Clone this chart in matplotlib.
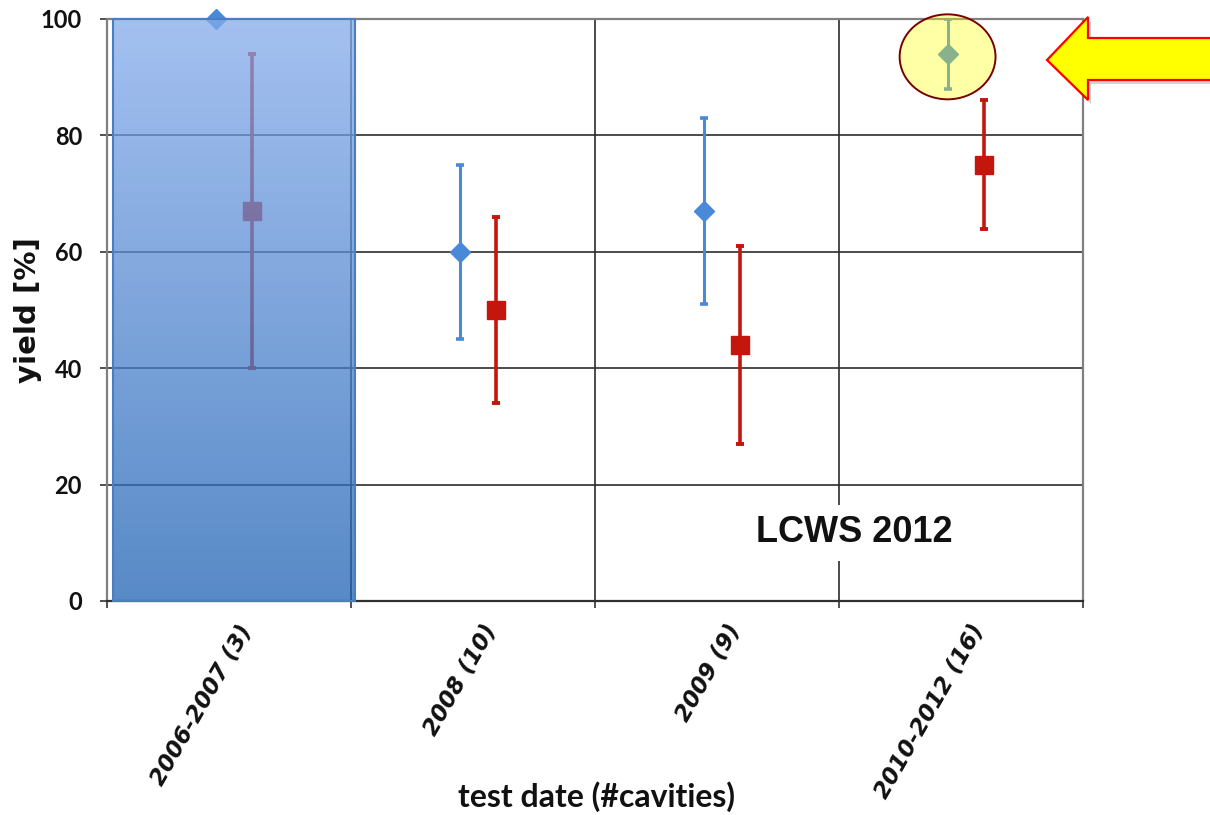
import numpy as np
import matplotlib
matplotlib.use('Agg')
import matplotlib.pyplot as plt
from matplotlib import font_manager
from matplotlib.patches import Rectangle, Ellipse, Polygon
from matplotlib.transforms import ScaledTranslation

# ---------------- data ----------------
categories = ['2006-2007 (3)', '2008 (10)', '2009 (9)', '2010-2012 (16)']
blue_vals = [100, 60, 67, 94]
blue_lo = [np.nan, 45, 51, 88]
blue_hi = [np.nan, 75, 83, 100]
red_vals = [67, 50, 44, 75]
red_lo = [40, 34, 27, 64]
red_hi = [94, 66, 61, 86]
yticks = [0, 20, 40, 60, 80, 100]
ylabel = 'yield [%]'
xlabel = 'test date (#cavities)'
note = 'LCWS 2012'

# ---------------- fonts ----------------
names = {f.name for f in font_manager.fontManager.ttflist}
narrow = 'Liberation Sans Narrow' if 'Liberation Sans Narrow' in names else 'Liberation Sans'
note_size = 30 if narrow == 'Liberation Sans Narrow' else 26

W, H = 1210, 815
fig = plt.figure(figsize=(W / 100, H / 100), dpi=100)
fig.patch.set_facecolor('white')
ax = fig.add_axes([107 / W, 1 - 601 / H, (1083 - 107) / W, (601 - 19) / H])

BLUE = '#4a88d8'
RED = '#c4160c'
GRID = '#2c2c2c'

x = np.arange(len(categories))
bv, blo, bhi = map(np.asarray, (blue_vals, blue_lo, blue_hi))
rv, rlo, rhi = map(np.asarray, (red_vals, red_lo, red_hi))
bx = x - 0.055
rx = x + 0.095

# grid
for v in yticks[1:-1]:
    ax.axhline(v, color=GRID, lw=1.2, zorder=1)
for b in x[:-1] + 0.5:
    ax.axvline(b, color=GRID, lw=1.2, zorder=1)

# error bars + markers
m = np.isfinite(blo)
ax.errorbar(bx[m], bv[m], yerr=[bv[m] - blo[m], bhi[m] - bv[m]], fmt='none',
            ecolor=BLUE, elinewidth=2.2, capsize=3, capthick=2.6, zorder=3)
ax.plot(bx, bv, 'D', ms=10, color=BLUE, zorder=4, clip_on=False)
ax.errorbar(rx, rv, yerr=[rv - rlo, rhi - rv], fmt='none',
            ecolor=RED, elinewidth=2.6, capsize=3, capthick=2.8, zorder=3)
ax.plot(rx, rv, 's', ms=13.5, color=RED, zorder=4, clip_on=False)

# blue gradient overlay over first category
x0, x1 = -0.475, 0.516
n = 256
t = np.linspace(0, 1, n)[:, None]
top = np.array([133, 171, 235]) / 255
bot = np.array([32, 99, 181]) / 255
img = np.ones((n, 1, 4))
img[:, 0, :3] = top * (1 - t) + bot * t
img[:, 0, 3] = 0.75
ax.imshow(img, extent=[x0, x1, 0, 100], origin='upper', aspect='auto',
          zorder=5, interpolation='bilinear')
ax.add_patch(Rectangle((x0, 0), x1 - x0, 100, fill=False, ec='#4a7ec0',
                       lw=1.5, zorder=5.5, clip_on=False))

# highlight ellipse
ax.add_patch(Ellipse((bx[3], 93.5), width=0.393, height=14.6,
                     fc=(1, 1, 0, 0.35), ec='#7a0000', lw=1.4, zorder=6, clip_on=False))

# note
ax.text(2.561, 11.7, note, ha='center', va='center', fontsize=note_size,
        family=narrow, fontweight='bold', color='#111111', zorder=7,
        bbox=dict(boxstyle='square,pad=0.3', fc='white', ec='none'))

ax.set_xlim(-0.5, 3.5)
ax.set_ylim(0, 100)

# spines
for s in ['left', 'right', 'top']:
    ax.spines[s].set_color('#808080')
    ax.spines[s].set_linewidth(1.6)
ax.spines['bottom'].set_color('#303030')
ax.spines['bottom'].set_linewidth(1.6)

# ticks
ax.set_yticks(yticks)
ax.set_yticklabels([str(v) for v in yticks], fontsize=17, family='Lato',
                   fontweight='bold', color='#111111')
ax.tick_params(axis='y', length=5, width=1.2, color='#333333', pad=13)
ax.set_xticks(x)
ax.set_xticks(np.arange(-0.5, len(categories), 1.0), minor=True)
ax.tick_params(axis='x', which='major', length=0, pad=0)
ax.tick_params(axis='x', which='minor', length=5, width=1.2, color='#333333')
ax.set_xticklabels(categories, rotation=60, ha='right', va='center',
                   rotation_mode='anchor', fontsize=16.5, family='DejaVu Sans',
                   fontweight='bold', style='italic', color='#111111')
for lab in ax.get_xticklabels():
    lab.set_transform(lab.get_transform() + ScaledTranslation(0.18, -0.25, fig.dpi_scale_trans))

# axis labels
fig.text(597 / W, 1 - 797 / H, xlabel, ha='center', va='center', fontsize=23,
         family='Lato', fontweight='bold', color='#111111')
fig.text(28 / W, 1 - 310 / H, ylabel, ha='center', va='center', rotation=90,
         fontsize=21, family='DejaVu Sans', fontweight='bold', color='#111111')

# yellow arrow (figure pixel coords)
pts = [(1047, 60), (1088, 17), (1088, 38), (1215, 38), (1215, 80), (1088, 80), (1088, 100)]
fpts = [(px / W, 1 - py / H) for px, py in pts]
spts = [((px + 3) / W, 1 - (py + 4) / H) for px, py in pts]
fig.patches.append(Polygon(spts, closed=True, transform=fig.transFigure,
                           fc=(0.5, 0.5, 0.5, 0.35), ec='none', zorder=9))
fig.patches.append(Polygon(fpts, closed=True, transform=fig.transFigure,
                           fc='#ffff00', ec='#ff0000', lw=1.6, zorder=10))

fig.savefig('out.png', dpi=100)
